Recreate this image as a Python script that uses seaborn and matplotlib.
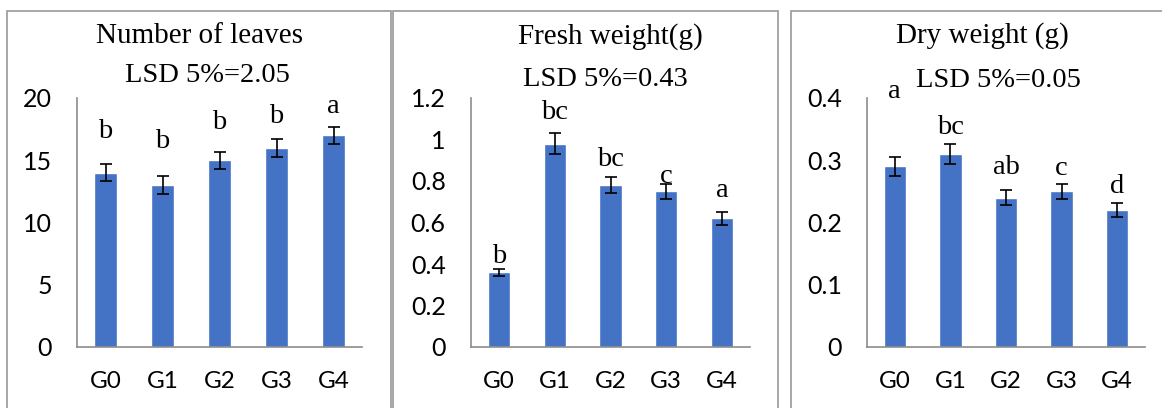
import matplotlib
matplotlib.use("Agg")
import matplotlib.pyplot as plt
from matplotlib.patches import Rectangle
import numpy as np
import pandas as pd
import seaborn as sns

# ---- data -------------------------------------------------------------
groups = ["G0", "G1", "G2", "G3", "G4"]

leaves = [14, 13, 15, 16, 17]
leaves_err = [0.7, 0.7, 0.7, 0.7, 0.7]
leaves_letters = ["b", "b", "b", "b", "a"]

fresh = [0.36, 0.98, 0.78, 0.75, 0.62]
fresh_err = [0.018, 0.049, 0.039, 0.0375, 0.031]
fresh_letters = ["b", "bc", "bc", "c", "a"]

dry = [0.29, 0.31, 0.24, 0.25, 0.22]
dry_err = [0.0145, 0.0155, 0.012, 0.0125, 0.011]
dry_letters = ["a", "bc", "ab", "c", "d"]

titles = ["Number of leaves", "Fresh weight(g)", "Dry weight (g)"]
lsd_texts = ["LSD 5%=2.05", "LSD 5%=0.43", "LSD 5%=0.05"]

y_ticks = [[0, 5, 10, 15, 20],
           [0, 0.2, 0.4, 0.6, 0.8, 1.0, 1.2],
           [0, 0.1, 0.2, 0.3, 0.4]]
y_tick_labels = [["0", "5", "10", "15", "20"],
                 ["0", "0.2", "0.4", "0.6", "0.8", "1", "1.2"],
                 ["0", "0.1", "0.2", "0.3", "0.4"]]

# ---- layout (pixels) --------------------------------------------------
W, H, DPI = 1162, 408, 100
AX_TOP, AX_BOTTOM = 98, 347
axes_x = [(77, 362), (471, 750), (867, 1145)]
panel_x = [(7, 391), (393, 778), (791, 1166)]
PANEL_TOP = 11
title_pos = [(199, 43), (610, 44), (982, 43)]
lsd_pos = [(207, 82), (605, 86), (998, 87)]
letter_y = [[16.8, 16.0, 17.5, 18.0, 18.8],
            [0.403, 1.10, 0.874, 0.789, 0.721],
            [0.400, 0.342, 0.278, 0.276, 0.248]]

BAR_COLOR = "#4472C4"
AXIS_COLOR = "#8c8c8c"
FRAME_COLOR = "#a0a0a0"
SERIF = ["Liberation Serif", "DejaVu Serif"]
SANS = ["Lato", "DejaVu Sans"]
YTICK_SIZE = 18
XTICK_SIZE = 17.5

sns.set_style("white")
plt.rcParams["font.family"] = SANS

fig = plt.figure(figsize=(W / DPI, H / DPI), dpi=DPI)

panels = [
    (leaves, leaves_err, leaves_letters),
    (fresh, fresh_err, fresh_letters),
    (dry, dry_err, dry_letters),
]

for i, (vals, errs, letters) in enumerate(panels):
    # panel frame
    x0, x1 = panel_x[i]
    fig.add_artist(Rectangle((x0 / W, -0.2), (x1 - x0) / W, 0.2 + 1 - PANEL_TOP / H,
                             transform=fig.transFigure, fill=False,
                             edgecolor=FRAME_COLOR, linewidth=1.3))

    l, r = axes_x[i]
    ax = fig.add_axes([l / W, 1 - AX_BOTTOM / H, (r - l) / W, (AX_BOTTOM - AX_TOP) / H])
    ax.set_facecolor("none")
    df = pd.DataFrame({"group": groups, "value": vals})
    sns.barplot(data=df, x="group", y="value", color=BAR_COLOR, saturation=1,
                width=0.4, errorbar=None, ax=ax)
    pos = np.arange(len(groups))
    ax.errorbar(pos, vals, yerr=errs, fmt="none", ecolor="black",
                elinewidth=1.2, capsize=4, capthick=1.2, zorder=5)

    for p, letter, ly in zip(pos, letters, letter_y[i]):
        ax.text(p, ly, letter, ha="center", va="baseline", fontsize=20.5,
                family=SERIF, color="black")

    ax.set_ylim(y_ticks[i][0], y_ticks[i][-1])
    ax.set_yticks(y_ticks[i])
    ax.set_yticklabels(y_tick_labels[i], fontsize=YTICK_SIZE, family=SANS)
    ax.set_xlim(-0.5, len(groups) - 0.5)
    ax.set_xticks(np.arange(-0.5, len(groups), 1.0))
    ax.set_xticklabels([])
    ax.set_xticks(pos, labels=groups, minor=True, fontsize=XTICK_SIZE, family=SANS)

    ax.set_xlabel("")
    ax.set_ylabel("")
    for side in ["top", "right"]:
        ax.spines[side].set_visible(False)
    for side in ["left", "bottom"]:
        ax.spines[side].set_color(AXIS_COLOR)
        ax.spines[side].set_linewidth(1.2)

    ax.tick_params(axis="y", which="major", direction="out", length=6.2, width=1.2,
                   color=AXIS_COLOR, pad=12, labelcolor="black")
    ax.tick_params(axis="x", which="major", direction="out", length=6.2, width=1.2,
                   color=AXIS_COLOR)
    ax.tick_params(axis="x", which="minor", length=0, pad=17, labelcolor="black")

    tx, ty = title_pos[i]
    fig.text(tx / W, 1 - ty / H, titles[i], ha="center", va="baseline",
             fontsize=21, family=SERIF, color="black")
    lx, ly = lsd_pos[i]
    fig.text(lx / W, 1 - ly / H, lsd_texts[i], ha="center", va="baseline",
             fontsize=20.5, family=SERIF, color="black")

fig.savefig("out.png", dpi=DPI, facecolor="white")
